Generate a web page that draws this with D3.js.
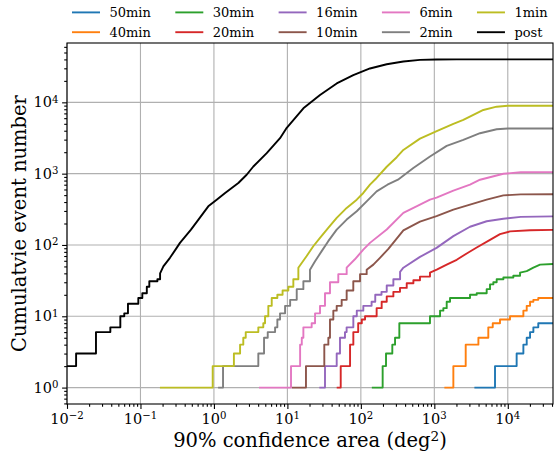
<!DOCTYPE html>
<html>
<head>
<meta charset="utf-8">
<script src="https://cdn.jsdelivr.net/npm/d3@7"></script>
<style>
  body { margin: 0; background: #fff; }
  text { font-family: "DejaVu Serif", serif; fill: #000; }
</style>
</head>
<body>
<svg id="chart" width="554" height="455"></svg>
<script>
// series names and colours, in plotting order
const names = ["50min", "40min", "30min", "20min", "16min", "10min", "6min", "2min", "1min", "post"];
const colors = ["#1f77b4", "#ff7f0e", "#2ca02c", "#d62728", "#9467bd", "#8c564b", "#e377c2", "#7f7f7f", "#bcbd22", "#000000"];

// [area (deg^2), cumulative count]
const min50 = [[3510,1],[6700,2],[13200,3],[16300,4],[18100,5],[20100,6],[22300,7],[26000,8],[41253,8]];
const min40 = [[1370,1],[1816,2],[2674,4],[3980,5],[5430,7],[6240,8],[7835,9],[10720,10],[16300,12],[18100,14],[20100,16],[22300,17],[26000,18],[41253,18]];
const min30 = [[141,1],[198,2],[220,3],[268,4],[292,5],[334,8],[873,10],[1197,12],[1327,13],[1474,16],[1636,18],[2482,18],[3062,20],[3775,21],[5160,24],[5730,28],[6360,30],[7060,33],[8710,35],[11900,37],[14700,41],[18100,43],[22300,48],[27500,53],[41253,54]];
const min20 = [[46.9,1],[53.2,2],[71.3,4],[79,6],[92,8],[103,9],[114,10],[164,13],[192,16],[225,19],[277,22],[341,25],[421,29],[519,32],[638,36],[873,41],[1078,45],[1474,53],[2018,62],[2760,76],[3775,92],[5730,118],[7835,142],[10720,155],[20080,161],[41253,163]];
const min16 = [[27.2,1],[32.5,2],[46.9,3],[52,5],[60.8,6],[64,7],[79,10],[88,12],[108,14],[140,16],[157,20],[191,22],[225,27],[277,33],[342,42],[379,48],[638,68],[1072,91],[1816,133],[3060,180],[5160,215],[8700,233],[15000,248],[41253,252]];
const min10 = [[11.5,1],[17.9,2],[31.8,4],[36.1,5],[38,9],[42.2,12],[46.9,14],[54.8,17],[64.1,23],[78.9,31],[97.5,39],[120,45],[148,53],[182,66],[237,88],[379,160],[638,213],[1072,253],[1816,313],[3060,368],[5160,432],[8700,496],[15000,512],[41253,515]];
const min6 = [[4.11,1],[11.2,2],[14.9,4],[15.7,5],[16.5,7],[21.4,8],[23.8,11],[27.8,14],[32.5,21],[38,30],[49.3,39],[64.1,48],[83,63],[108,86],[133,107],[225,165],[379,282],[638,368],[873,432],[1072,460],[1816,580],[3060,700],[4190,822],[8710,997],[15000,1045],[41253,1050]];
const min2 = [[1.14,1],[1.33,2],[4.02,3],[4.81,5],[5.4,6],[6.8,7],[7.3,9],[7.94,11],[9.3,14],[10.9,17],[13.4,24],[16.5,31],[20.3,45],[23.8,59],[29.3,82],[36,113],[46.9,164],[64.1,227],[87.9,297],[120,409],[164,564],[230,700],[320,822],[518,1197],[873,1740],[1474,2450],[2480,2970],[4190,3690],[7060,4200],[10000,4300],[41253,4300]];
const min1 = [[0.184,1],[0.962,2],[1.87,3],[2.27,4],[2.51,5],[2.71,6],[4.02,7],[4.7,8],[4.96,10],[5.5,14],[6.12,18],[7.3,20],[8.6,23],[10.3,26],[12.05,33],[14.1,48],[18.3,70],[22.5,96],[27.8,126],[36,174],[46.9,240],[64.1,331],[87.9,432],[108,536],[133,700],[164,870],[225,1250],[308,1700],[379,2150],[638,3100],[1078,3950],[1816,5000],[2483,5660],[4650,7820],[7060,8690],[10000,8950],[41253,8950]];
const post = [[0.01,2],[0.0133,3],[0.0248,6],[0.0389,7],[0.0532,10],[0.0602,11],[0.0676,15],[0.0935,18],[0.106,21],[0.122,26],[0.132,31],[0.17,33],[0.185,40],[0.205,50],[0.252,66],[0.311,91],[0.345,107],[0.487,164],[0.612,225],[0.838,348],[1.09,432],[1.42,536],[2.15,739],[2.79,966],[3.44,1260],[5.23,1940],[7.94,3140],[9.8,4400],[16.5,8240],[27.8,12650],[46.9,18400],[78.9,24050],[133,29850],[225,34260],[379,37400],[638,39400],[1072,39800],[2000,40000],[41253,40000]];

const seriesData = [min50, min40, min30, min20, min16, min10, min6, min2, min1, post];

// tick exponents
const xTickExp = [-2, -1, 0, 1, 2, 3, 4];
const yTickExp = [0, 1, 2, 3, 4];

const svg = d3.select("#chart");
const plot = { left: 67, right: 553, top: 43, bottom: 404 };

// full sky area is the right end of the x axis
const x = d3.scaleLog().domain([0.01, 41253]).range([plot.left, plot.right]);
// y limits: 5% margin in log space like matplotlib
const yTopData = d3.max(post, d => d[1]);
const L = Math.log10(yTopData);
const y = d3.scaleLog().domain([Math.pow(10, -0.05 * L), Math.pow(10, 1.05 * L)]).range([plot.bottom, plot.top]);

// minor tick values
function minorTicks(scale) {
  const [a, b] = scale.domain();
  const out = [];
  for (let e = Math.floor(Math.log10(a)); e <= Math.ceil(Math.log10(b)); e++) {
    for (let m = 2; m <= 9; m++) {
      const v = m * Math.pow(10, e);
      if (v >= a && v <= b) out.push(v);
    }
  }
  return out;
}

// grid
const grid = svg.append("g");
grid.selectAll(".gx").data(xTickExp).enter().append("line")
  .attr("x1", d => x(Math.pow(10, d))).attr("x2", d => x(Math.pow(10, d)))
  .attr("y1", plot.top).attr("y2", plot.bottom)
  .attr("stroke", "#b0b0b0").attr("stroke-width", 1.1);
grid.selectAll(".gy").data(yTickExp).enter().append("line")
  .attr("y1", d => y(Math.pow(10, d))).attr("y2", d => y(Math.pow(10, d)))
  .attr("x1", plot.left).attr("x2", plot.right)
  .attr("stroke", "#b0b0b0").attr("stroke-width", 1.1);

// clip
svg.append("clipPath").attr("id", "clip").append("rect")
  .attr("x", plot.left).attr("y", plot.top)
  .attr("width", plot.right - plot.left).attr("height", plot.bottom - plot.top);

// low counts are drawn as real steps, high counts (tiny steps) as a smooth trace
const stepLimit = 40;
function cumulPath(pts) {
  let d = `M${x(pts[0][0])},${y(pts[0][1])}`;
  for (let i = 1; i < pts.length; i++) {
    const prev = pts[i - 1][1];
    if (prev < stepLimit) d += `H${x(pts[i][0])}V${y(pts[i][1])}`;
    else d += `L${x(pts[i][0])},${y(pts[i][1])}`;
  }
  return d;
}

svg.append("g").attr("clip-path", "url(#clip)")
  .selectAll("path").data(seriesData).enter().append("path")
  .attr("d", cumulPath)
  .attr("fill", "none")
  .attr("stroke", (d, i) => colors[i])
  .attr("stroke-width", 1.9)
  .attr("stroke-linejoin", "round");

// axes
const xAxis = svg.append("g").attr("transform", `translate(0,${plot.bottom})`)
  .call(d3.axisBottom(x).tickValues(xTickExp.map(e => Math.pow(10, e))).tickSize(4.9).tickSizeOuter(0).tickFormat(""));
const xMinor = svg.append("g").attr("transform", `translate(0,${plot.bottom})`)
  .call(d3.axisBottom(x).tickValues(minorTicks(x)).tickSize(2.8).tickSizeOuter(0).tickFormat(""));
const yAxis = svg.append("g").attr("transform", `translate(${plot.left},0)`)
  .call(d3.axisLeft(y).tickValues(yTickExp.map(e => Math.pow(10, e))).tickSize(4.9).tickSizeOuter(0).tickFormat(""));
const yMinor = svg.append("g").attr("transform", `translate(${plot.left},0)`)
  .call(d3.axisLeft(y).tickValues(minorTicks(y)).tickSize(2.8).tickSizeOuter(0).tickFormat(""));

[xAxis, xMinor, yAxis, yMinor].forEach(g => {
  g.select(".domain").remove();
  g.selectAll(".tick line").attr("stroke", "#000").attr("stroke-width", 1.1);
});

// tick labels with superscript exponent
function expLabel(sel, e) {
  sel.append("tspan").text("10");
  sel.append("tspan").attr("dy", "-0.45em").attr("font-size", "70%")
    .text(String(e).replace("-", "\u2212"));
}
svg.append("g").selectAll("text").data(xTickExp).enter().append("text")
  .attr("x", d => x(Math.pow(10, d)))
  .attr("y", 424)
  .attr("text-anchor", "middle")
  .attr("font-size", "14.5px")
  .each(function (d) { expLabel(d3.select(this), d); });
svg.append("g").selectAll("text").data(yTickExp).enter().append("text")
  .attr("x", plot.left - 8.5)
  .attr("y", d => y(Math.pow(10, d)) + 5)
  .attr("text-anchor", "end")
  .attr("font-size", "14.5px")
  .each(function (d) { expLabel(d3.select(this), d); });

// frame
svg.append("rect")
  .attr("x", plot.left).attr("y", plot.top)
  .attr("width", plot.right - plot.left).attr("height", plot.bottom - plot.top)
  .attr("fill", "none").attr("stroke", "#000").attr("stroke-width", 1.1);

// axis labels
const xl = svg.append("text")
  .attr("x", (plot.left + plot.right) / 2).attr("y", 447)
  .attr("text-anchor", "middle").attr("font-size", "19.5px");
xl.append("tspan").text("90% confidence area (deg");
xl.append("tspan").attr("dy", "-0.45em").attr("font-size", "70%").text("2");
xl.append("tspan").attr("dy", "0.315em").text(")");

svg.append("text")
  .attr("transform", `translate(26,${(plot.top + plot.bottom) / 2}) rotate(-90)`)
  .attr("text-anchor", "middle").attr("font-size", "19.5px")
  .text("Cumulatvie event number");

// legend, 5 columns filled column by column
const legend = svg.append("g");
const rowY = [12.4, 32.2];
let colX = 72;
for (let c = 0; c < 5; c++) {
  let maxW = 0;
  for (let r = 0; r < 2; r++) {
    const i = c * 2 + r;
    legend.append("line")
      .attr("x1", colX).attr("x2", colX + 28)
      .attr("y1", rowY[r]).attr("y2", rowY[r])
      .attr("stroke", colors[i]).attr("stroke-width", 1.9);
    const t = legend.append("text")
      .attr("x", colX + 37.5).attr("y", rowY[r] + 4.8)
      .attr("font-size", "13px")
      .text(names[i]);
    maxW = Math.max(maxW, t.node().getComputedTextLength());
  }
  colX += 28 + 9.5 + maxW + 24.4;
}
</script>
</body>
</html>
